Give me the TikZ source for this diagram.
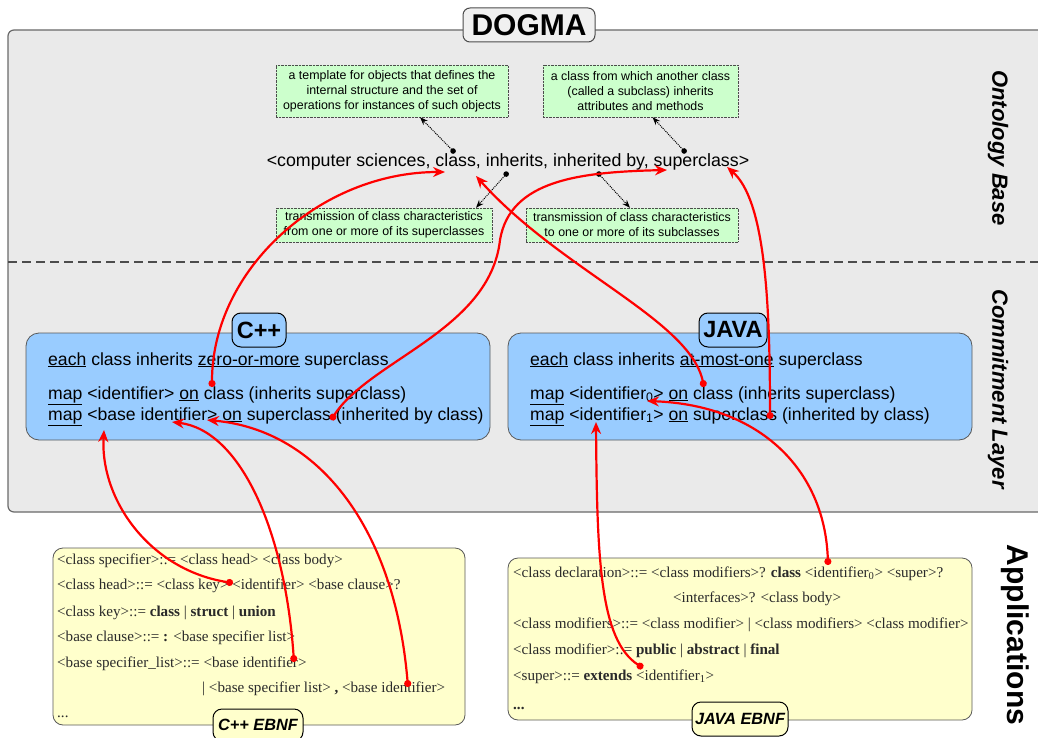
\documentclass[tikz,border=0pt]{standalone}
\usepackage{fontspec}
\setmainfont{Liberation Sans}
\newfontfamily\ebnffont{Liberation Serif}
\usetikzlibrary{arrows.meta}
\definecolor{layergray}{HTML}{EAEAEA}
\definecolor{layerline}{HTML}{6A6A6A}
\definecolor{notegreen}{HTML}{CCFFCC}
\definecolor{boxblue}{HTML}{99CCFF}
\definecolor{boxyellow}{HTML}{FFFFCC}
\definecolor{ebnftext}{HTML}{2A2A2A}
\tikzset{
  layerbox/.style={draw=layerline, fill=layergray, line width=1.2pt, rounded corners=6pt},
  sep/.style={draw=black!70, line width=1.2pt, dash pattern=on 9pt off 5pt},
  titletag/.style={draw=black!70, fill=black!6, line width=1pt, rounded corners=7pt,
     font=\bfseries\fontsize{30}{33}\selectfont, minimum width=132pt, minimum height=34pt, inner sep=0pt},
  sidelabel/.style={rotate=-90, font=\bfseries\itshape\fontsize{22}{25}\selectfont},
  note/.style={draw=black!70, densely dotted, fill=notegreen, align=center,
     font=\fontsize{12.4}{15}\selectfont, inner sep=0pt, minimum height=0pt},
  concept/.style={font=\fontsize{17.8}{20}\selectfont, inner sep=0pt},
  dotarrow/.style={densely dotted, line width=1pt, {Circle[length=5.5pt]}-{Stealth[length=8pt,width=6pt]}},
  langbox/.style={draw=black!65, fill=boxblue, line width=0.8pt, rounded corners=13pt, inner sep=0pt},
  langtag/.style={draw=black, fill=boxblue, line width=1pt, rounded corners=9pt,
     font=\bfseries\fontsize{23.5}{26}\selectfont, inner sep=0pt},
  ruleline/.style={anchor=base west, font=\fontsize{17.6}{20}\selectfont, inner sep=0pt},
  ebnfbox/.style={draw=black!65, fill=boxyellow, line width=0.8pt, rounded corners=10pt, inner sep=0pt},
  ebnfline/.style={anchor=base west, font=\ebnffont\fontsize{15.1}{18}\selectfont, text=ebnftext, inner sep=0pt},
  ebnftag/.style={draw=black, fill=boxyellow, line width=1pt, rounded corners=9pt,
     font=\bfseries\itshape\fontsize{16.3}{19}\selectfont, inner sep=0pt},
  link/.style={draw=red, line width=2.2pt, {Circle[length=7pt]}-{Stealth[length=12pt,width=10pt]}}
}
\begin{document}
\begin{tikzpicture}[x=1pt,y=-1pt]
\useasboundingbox (0,0) rectangle (1038,738);
\clip (0,0) rectangle (1038,738);
\fill[white] (0,0) rectangle (1038,738);

% layers
\draw[layerbox] (8,30) rectangle (1060,512);
\draw[sep] (8,262) -- (1038,262);
\node[titletag] (dogma) at (529,25) {DOGMA};
\node[sidelabel] (ontolabel) at (998,148) {Ontology Base};
\node[sidelabel] (commlabel) at (998,389) {Commitment Layer};
\node[rotate=-90, font=\bfseries\fontsize{30}{33}\selectfont] (applabel) at (1015,635) {Applications};

% ontology base
\node[note, minimum width=232pt, minimum height=52pt] (n1) at (392,91)
  {a template for objects that defines the\\internal structure and the set of\\operations for instances of such objects};
\node[note, minimum width=195pt, minimum height=52pt] (n2) at (640.5,91)
  {a class from which another class\\(called a subclass) inherits\\attributes and methods};
\node[note, minimum width=216pt, minimum height=34pt] (n3) at (384,225)
  {transmission of class characteristics\\from one or more of its superclasses};
\node[note, minimum width=212pt, minimum height=34pt] (n4) at (632,225)
  {transmission of class characteristics\\to one or more of its subclasses};
\node[concept] (lexon) at (508,162) {<computer sciences, class, inherits, inherited by, superclass>};

\coordinate (dclass) at (455,153);
\coordinate (dsuper) at (686,153);
\coordinate (dinh) at (508,172);
\coordinate (dinhby) at (597,172);
\draw[dotarrow] (dclass) -- ([xshift=28pt]n1.south);
\draw[dotarrow] (dsuper) -- ([xshift=12pt]n2.south);
\draw[dotarrow] (dinh) -- ([xshift=92pt]n3.north);
\draw[dotarrow] (dinhby) -- ([xshift=-2pt]n4.north);

% commitment layer
\node[langbox, minimum width=464pt, minimum height=107pt] (cpp) at (258,386.5) {};
\node[langtag, minimum width=54pt, minimum height=34pt] (cpptag) at (259,330) {C++};
\node[ruleline] (c1) at (48,365) {\underline{each} class inherits \underline{zero-or-more} superclass};
\node[ruleline] (c2) at (48,399) {\underline{map} <identifier> \underline{on} class (inherits superclass)};
\node[ruleline] (c3) at (48,420) {\underline{map} <base identifier> \underline{on} superclass (inherited by class)};

\node[langbox, minimum width=464pt, minimum height=107pt] (java) at (740,386.5) {};
\node[langtag, minimum width=68pt, minimum height=34pt] (javatag) at (733,330) {JAVA};
\node[ruleline] (j1) at (530,365) {\underline{each} class inherits \underline{at-most-one} superclass};
\node[ruleline] (j2) at (530,399) {\underline{map} <identifier\textsubscript{0}> \underline{on} class (inherits superclass)};
\node[ruleline] (j3) at (530,420) {\underline{map} <identifier\textsubscript{1}> \underline{on} superclass (inherited by class)};

% applications
\node[ebnfbox, minimum width=412pt, minimum height=177pt] (cppebnf) at (259,636.5) {};
\node[ebnfline] (e1) at (57,564) {<class specifier>::= <class head> <class body>};
\node[ebnfline] (e2) at (57,589) {<class head>::= <class key> <identifier> <base clause>?};
\node[ebnfline] (e3) at (57,616) {<class key>::= \textbf{class} | \textbf{struct} | \textbf{union}};
\node[ebnfline] (e4) at (57,641) {<base clause>::= \textbf{:} <base specifier list>};
\node[ebnfline] (e5) at (57,667) {<base specifier\_list>::= <base identifier>};
\node[ebnfline] (e6) at (202,692) {| <base specifier list> \textbf{,} <base identifier>};
\node[ebnfline] (e7) at (57,717) {...};
\node[ebnftag, minimum width=90pt, minimum height=32pt] (cpptag2) at (258,725) {C++ EBNF};

\node[ebnfbox, minimum width=464pt, minimum height=162pt] (javaebnf) at (740,639) {};
\node[ebnfline] (f1) at (513,577) {<class declaration>::= <class modifiers>? \textbf{class} <identifier\textsubscript{0}> <super>?};
\node[ebnfline] (f2) at (673,602) {<interfaces>? <class body>};
\node[ebnfline] (f3) at (513,628) {<class modifiers>::= <class modifier> | <class modifiers> <class modifier>};
\node[ebnfline] (f4) at (513,654) {<class modifier>::= \textbf{public} | \textbf{abstract} | \textbf{final}};
\node[ebnfline] (f5) at (513,680) {<super>::= \textbf{extends} <identifier\textsubscript{1}>};
\node[ebnfline] (f6) at (513,709) {\textbf{...}};
\node[ebnftag, minimum width=96pt, minimum height=34pt] (javatag2) at (740,719) {JAVA EBNF};

% red links
\coordinate (a1s) at (212,387);  \coordinate (a1e) at (445,172);
\coordinate (a2s) at (331,420);  \coordinate (a2m) at (500,240); \coordinate (a2e) at (667,170);
\coordinate (a3s) at (704,387);  \coordinate (a3e) at (476,176);
\coordinate (a4s) at (770,419);  \coordinate (a4e) at (727,167);
\coordinate (a5s) at (233,583);  \coordinate (a5e) at (104,430);
\coordinate (a6s) at (294,662);  \coordinate (a6e) at (172,422);
\coordinate (a7s) at (408,687);  \coordinate (a7e) at (207,420);
\coordinate (a8s) at (828,565);  \coordinate (a8e) at (647,401);
\coordinate (a9s) at (643,668);  \coordinate (a9e) at (596,422);

\draw[link] (a1s) .. controls (212,270) and (320,172) .. (a1e);
\draw[link] (a2s) .. controls (370,360) and (490,330) .. (a2m) .. controls (510,180) and (580,172) .. (a2e);
\draw[link] (a3s) .. controls (690,320) and (560,270) .. (a3e);
\draw[link] (a4s) .. controls (770,300) and (765,200) .. (a4e);
\draw[link] (a5s) .. controls (150,570) and (100,500) .. (a5e);
\draw[link] (a6s) .. controls (285,530) and (240,430) .. (a6e);
\draw[link] (a7s) .. controls (395,530) and (320,430) .. (a7e);
\draw[link] (a8s) .. controls (825,470) and (760,405) .. (a8e);
\draw[link] (a9s) .. controls (600,640) and (597,560) .. (a9e);
\end{tikzpicture}
\end{document}
